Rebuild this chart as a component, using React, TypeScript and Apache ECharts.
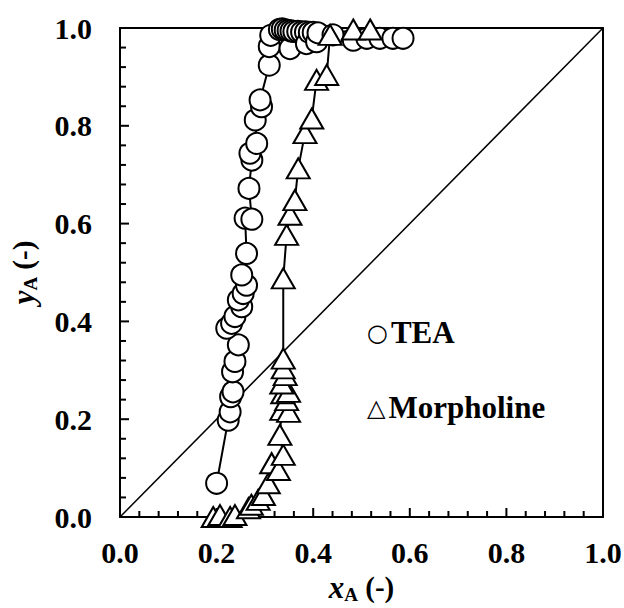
import React, { useEffect, useRef } from "react";
import * as echarts from "echarts";

const teaX = [0.200, 0.224, 0.228, 0.229, 0.234, 0.233, 0.238, 0.245, 0.221, 0.231, 0.238, 0.252, 0.245, 0.255, 0.262, 0.252, 0.262, 0.259, 0.273, 0.267, 0.273, 0.269, 0.283, 0.280, 0.293, 0.290, 0.309, 0.309, 0.312,
  0.330, 0.336, 0.342, 0.348, 0.352, 0.354, 0.360, 0.368, 0.376, 0.384, 0.386, 0.392, 0.400, 0.407, 0.410, 0.441, 0.483, 0.511, 0.538, 0.565, 0.586];
const teaY = [0.069, 0.198, 0.215, 0.246, 0.256, 0.297, 0.318, 0.352, 0.386, 0.396, 0.410, 0.430, 0.444, 0.457, 0.474, 0.495, 0.539, 0.611, 0.609, 0.672, 0.730, 0.744, 0.764, 0.812, 0.839, 0.853, 0.924, 0.962, 0.985,
  0.997, 0.998, 0.996, 0.995, 0.958, 0.994, 0.993, 0.993, 0.992, 0.992, 0.968, 0.991, 0.991, 0.972, 0.990, 0.986, 0.975, 0.979, 0.979, 0.979, 0.979];

const morX = [0.193, 0.207, 0.228, 0.238, 0.266, 0.272, 0.286, 0.297, 0.307, 0.314, 0.328, 0.338, 0.331, 0.335, 0.349, 0.345, 0.337, 0.349, 0.335, 0.342, 0.338, 0.338, 0.338, 0.345, 0.352, 0.362, 0.369, 0.383, 0.397, 0.407, 0.428, 0.435, 0.483, 0.518];
const morY = [0.000, 0.004, 0.000, 0.004, 0.018, 0.025, 0.035, 0.045, 0.069, 0.110, 0.096, 0.127, 0.168, 0.219, 0.215, 0.239, 0.253, 0.256, 0.273, 0.290, 0.304, 0.324, 0.488, 0.577, 0.618, 0.648, 0.713, 0.785, 0.815, 0.894, 0.904, 0.986, 0.997, 0.997];

const diagX = [0, 1];
const diagY = [0, 1];

// tick positions (major every 0.2, minor every 0.04)
const majorTicks = [0.2, 0.4, 0.6, 0.8];
const minorTicks = [0.04, 0.08, 0.12, 0.16, 0.24, 0.28, 0.32, 0.36, 0.44, 0.48, 0.52, 0.56, 0.64, 0.68, 0.72, 0.76, 0.84, 0.88, 0.92, 0.96];

const FONT = "Liberation Serif";

export default function App() {
  const ref = useRef<HTMLDivElement>(null);
  useEffect(() => {
    document.body.style.margin = "0";
    const chart = echarts.init(ref.current!, null, { renderer: "svg" });
    const zip = (xs: number[], ys: number[]) => xs.map((x, i) => [x, ys[i]]);
    const label = {
      show: true,
      color: "#000",
      fontFamily: FONT,
      fontWeight: "bold" as const,
      fontSize: 30,
      formatter: (v: number) => v.toFixed(1),
    };
    const base = {
      type: "value" as const,
      min: 0,
      max: 1,
      interval: 0.2,
      splitLine: { show: false },
      axisTick: { show: false },
      axisLine: { show: true, onZero: false, lineStyle: { color: "#000", width: 2 } },
    };
    const nameRich = {
      v: { fontFamily: FONT, fontStyle: "italic", fontWeight: "bold", fontSize: 31, color: "#000", lineHeight: 34 },
      s: { fontFamily: FONT, fontWeight: "bold", fontSize: 19, color: "#000", lineHeight: 34, verticalAlign: "bottom" },
      n: { fontFamily: FONT, fontWeight: "bold", fontSize: 29, color: "#000", lineHeight: 34 },
    };
    const legendRich = {
      sym: { fontFamily: "DejaVu Sans", fontSize: 24, fill: "#000", fontWeight: "normal", padding: [0, 3, 0, 0] },
      t: { fontFamily: FONT, fontSize: 31, fontWeight: "bold", fill: "#000" },
    };
    const tickData = [
      ...minorTicks.map((v) => [v, 0]),
      ...majorTicks.map((v) => [v, 1]),
    ];
    chart.setOption({
      animation: false,
      backgroundColor: "#fff",
      grid: { left: 120, top: 28, width: 483, height: 489, containLabel: false, outerBoundsMode: "none" },
      xAxis: [
        {
          ...base,
          position: "bottom",
          axisLabel: { ...label, margin: 20 },
          name: "{v|x}{s|A}{n| (-)}",
          nameLocation: "middle",
          nameGap: 52,
          nameTextStyle: { rich: nameRich },
        },
        { ...base, position: "top", axisLabel: { show: false } },
      ],
      yAxis: [
        {
          ...base,
          position: "left",
          axisLabel: { ...label, margin: 28 },
          name: "{v|y}{s|A}{n| (-)}",
          nameLocation: "middle",
          nameGap: 80,
          nameTextStyle: { rich: nameRich },
        },
        { ...base, position: "right", axisLabel: { show: false } },
      ],
      series: [
        {
          name: "ticks",
          type: "custom",
          data: tickData,
          clip: false,
          silent: true,
          z: 2,
          renderItem: (params: any, api: any) => {
            const v = api.value(0);
            const len = api.value(1) === 1 ? 9 : 6;
            const px = api.coord([v, 0]);
            const py = api.coord([0, v]);
            const st = { stroke: "#000", lineWidth: 2 };
            return {
              type: "group",
              children: [
                { type: "line", shape: { x1: px[0], y1: px[1], x2: px[0], y2: px[1] - len }, style: st },
                { type: "line", shape: { x1: py[0], y1: py[1], x2: py[0] + len, y2: py[1] }, style: st },
              ],
            };
          },
        },
        {
          name: "diagonal",
          type: "line",
          data: zip(diagX, diagY),
          symbol: "none",
          lineStyle: { color: "#000", width: 1.5 },
          z: 1,
        },
        {
          name: "TEA",
          type: "line",
          data: zip(teaX, teaY),
          symbol: "circle",
          symbolSize: 21,
          clip: false,
          itemStyle: { color: "#fff", borderColor: "#000", borderWidth: 2 },
          lineStyle: { color: "#000", width: 2 },
          z: 3,
        },
        {
          name: "Morpholine",
          type: "line",
          data: zip(morX, morY),
          symbol: "triangle",
          symbolSize: [23, 20],
          clip: false,
          itemStyle: { color: "#fff", borderColor: "#000", borderWidth: 2 },
          lineStyle: { color: "#000", width: 2 },
          z: 3,
        },
      ],
      graphic: [
        {
          type: "text",
          left: 367,
          top: 317,
          style: { text: "{sym|○}{t|TEA}", rich: legendRich },
        },
        {
          type: "text",
          left: 367,
          top: 392,
          style: { text: "{sym|△}{t|Morpholine}", rich: legendRich },
        },
      ],
    });
    return () => chart.dispose();
  }, []);
  return <div ref={ref} style={{ width: 624, height: 608 }} />;
}
